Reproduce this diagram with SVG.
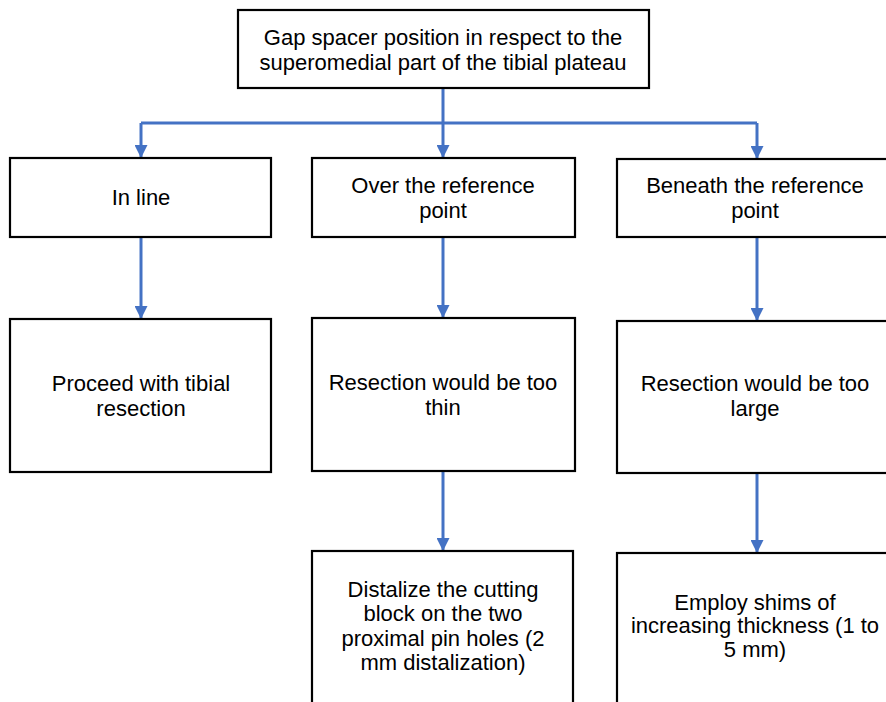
<svg xmlns="http://www.w3.org/2000/svg" width="886" height="702" viewBox="0 0 886 702">
<style>
.box{fill:#ffffff;stroke:#000000;stroke-width:2.2}
.t{font-family:"Liberation Sans",Arial,sans-serif;font-size:22px;fill:#000000;text-anchor:middle}
.c{fill:none;stroke:#4472C4;stroke-width:3}
</style>
<defs>
<marker id="ah" markerUnits="userSpaceOnUse" markerWidth="13" markerHeight="13" viewBox="0 0 13 13" refX="12" refY="6.5" orient="auto">
<path d="M0,0 L13,6.5 L0,13 Z" fill="#4472C4"/>
</marker>
</defs>
<rect width="886" height="702" fill="#ffffff"/>
<g id="connectors">
<path class="c" d="M443,88 V123 M141,123 H757"/>
<path class="c" d="M141,123 V157" marker-end="url(#ah)"/>
<path class="c" d="M443,123 V157" marker-end="url(#ah)"/>
<path class="c" d="M757,123 V158" marker-end="url(#ah)"/>
<path class="c" d="M141,237 V318" marker-end="url(#ah)"/>
<path class="c" d="M443,237 V317" marker-end="url(#ah)"/>
<path class="c" d="M757,237 V320" marker-end="url(#ah)"/>
<path class="c" d="M443,471 V550" marker-end="url(#ah)"/>
<path class="c" d="M757,473 V552" marker-end="url(#ah)"/>
</g>
<g id="n-top">
<rect class="box" x="238" y="10" width="411" height="78"/>
<text class="t" x="443" y="45">Gap spacer position in respect to the</text>
<text class="t" x="443" y="70">superomedial part of the tibial plateau</text>
</g>
<g id="n-inline">
<rect class="box" x="10" y="158" width="261" height="79"/>
<text class="t" x="141" y="205">In line</text>
</g>
<g id="n-over">
<rect class="box" x="312" y="158" width="263" height="79"/>
<text class="t" x="443" y="193">Over the reference</text>
<text class="t" x="443" y="218">point</text>
</g>
<g id="n-beneath">
<rect class="box" x="617" y="159" width="275" height="78"/>
<text class="t" x="755" y="193">Beneath the reference</text>
<text class="t" x="755" y="218">point</text>
</g>
<g id="n-proceed">
<rect class="box" x="10" y="319" width="261" height="153"/>
<text class="t" x="141" y="391">Proceed with tibial</text>
<text class="t" x="141" y="416">resection</text>
</g>
<g id="n-thin">
<rect class="box" x="312" y="318" width="263" height="153"/>
<text class="t" x="443" y="390">Resection would be too</text>
<text class="t" x="443" y="415">thin</text>
</g>
<g id="n-large">
<rect class="box" x="617" y="321" width="275" height="152"/>
<text class="t" x="755" y="391">Resection would be too</text>
<text class="t" x="755" y="416">large</text>
</g>
<g id="n-distalize">
<rect class="box" x="312" y="551" width="261" height="153"/>
<text class="t" x="443" y="597">Distalize the cutting</text>
<text class="t" x="443" y="621">block on the two</text>
<text class="t" x="443" y="646">proximal pin holes (2</text>
<text class="t" x="443" y="670">mm distalization)</text>
</g>
<g id="n-shims">
<rect class="box" x="617" y="553" width="275" height="151"/>
<text class="t" x="755" y="610">Employ shims of</text>
<text class="t" x="755" y="633">increasing thickness (1 to</text>
<text class="t" x="755" y="657">5 mm)</text>
</g>
</svg>
